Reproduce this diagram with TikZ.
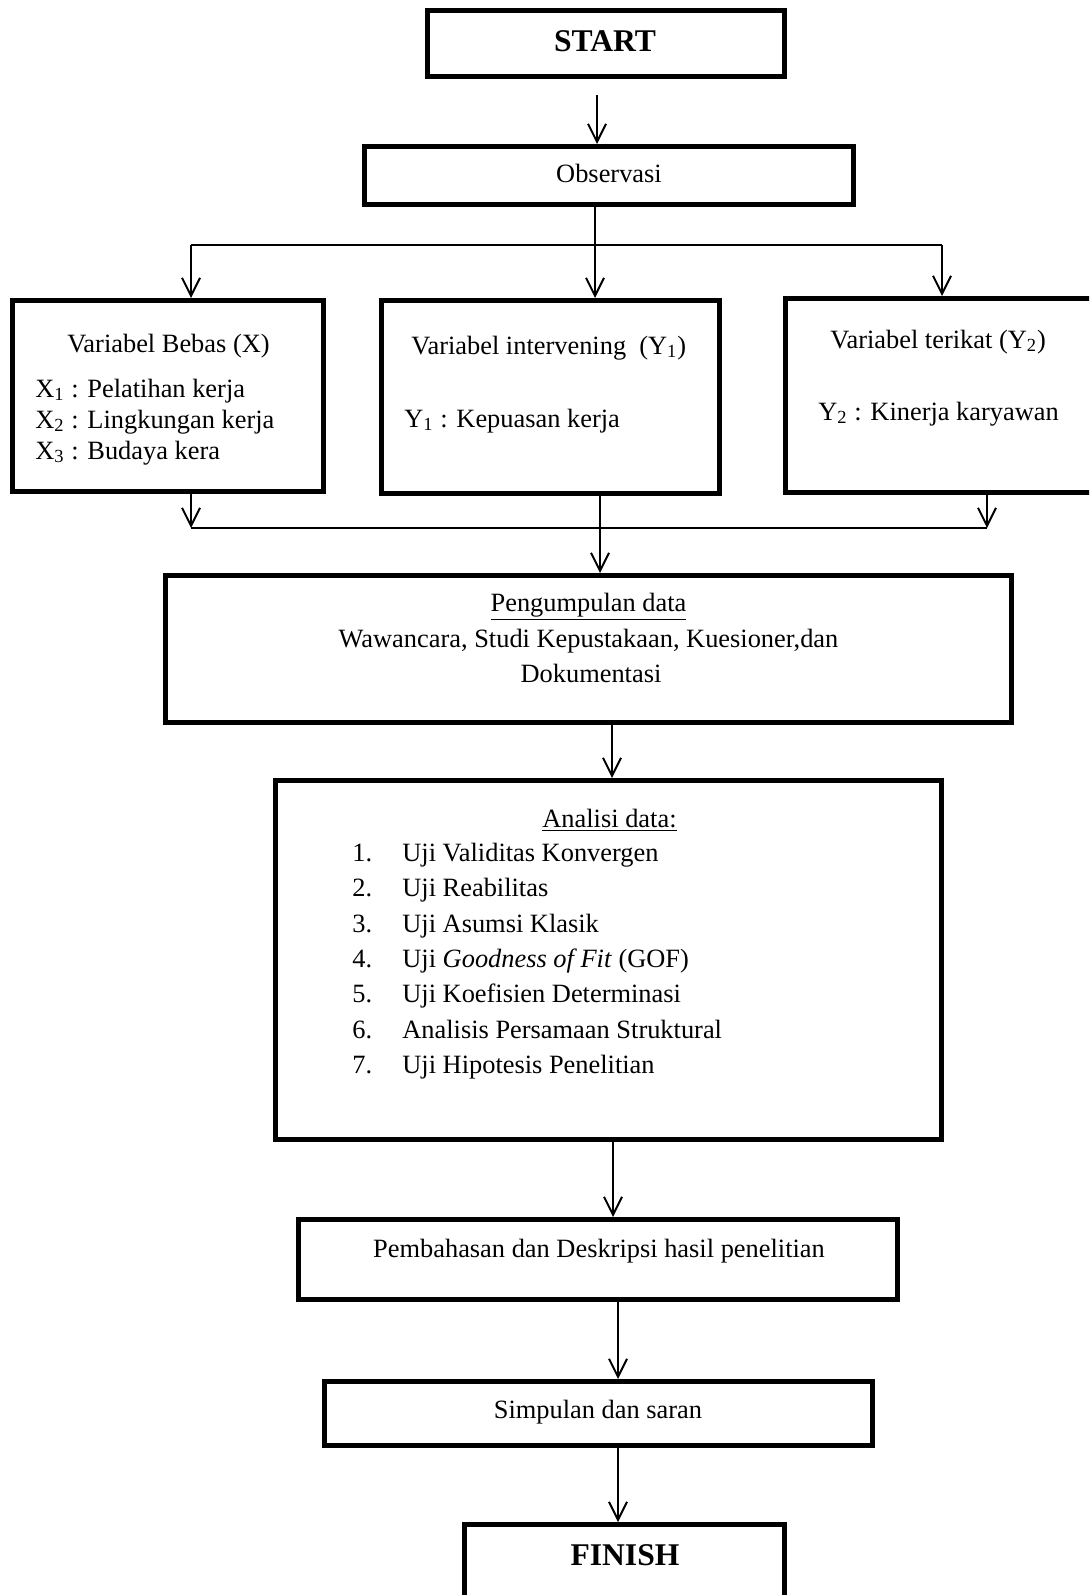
\documentclass[tikz,border=0pt]{standalone}
\usepackage{fontspec}
\setmainfont{Liberation Serif}
\usetikzlibrary{arrows.meta,calc}
\begin{document}
\begin{tikzpicture}[x=0.5pt,y=-0.5pt,
  box/.style={draw,line width=2.5pt,inner sep=0pt},
  txt/.style={inner sep=0pt,font=\fontsize{13.2}{15.5}\selectfont},
  bold/.style={inner sep=0pt,font=\fontsize{15.8}{18}\selectfont\bfseries},
  conn/.style={line width=1pt},
  arr/.style={line width=1pt,-{Straight Barb[length=9pt,width=9pt]}}]
\clip (0,0) rectangle (1089,1595);
\fill[white] (0,0) rectangle (1089,1595);
% boxes
\node[box,minimum width=178.5pt,minimum height=33pt] (start) at (606,43.5) {};
\node[box,minimum width=244.5pt,minimum height=29pt] (obs) at (609,175.5) {};
\node[box,minimum width=155.5pt,minimum height=95.5pt] (bebas) at (168,396) {};
\node[box,minimum width=169pt,minimum height=96.5pt] (interv) at (550.5,397) {};
\node[box,minimum width=157.25pt,minimum height=97pt] (terikat) at (942.75,395.5) {};
\node[box,minimum width=423pt,minimum height=73.5pt] (kumpul) at (588.5,649) {};
\node[box,minimum width=333pt,minimum height=179.5pt] (analisi) at (608.5,960) {};
\node[box,minimum width=299.5pt,minimum height=40pt] (bahas) at (598,1259.5) {};
\node[box,minimum width=274pt,minimum height=32pt] (simpul) at (598.5,1413.5) {};
\node[box,minimum width=160pt,minimum height=57.75pt] (finish) at (624.5,1582.25) {};
% texts
\node[bold,anchor=base] (tstart) at (605,52) {START};
\node[txt,anchor=base] (tobs) at (609,183) {Observasi};
\node[txt,anchor=base] (tbebas) at (168.5,352) {Variabel Bebas (X)};
\node[txt,anchor=base west] (tx1) at (35,397) {X\textsubscript{1} : Pelatihan kerja};
\node[txt,anchor=base west] (tx2) at (35,428) {X\textsubscript{2} : Lingkungan kerja};
\node[txt,anchor=base west] (tx3) at (35,459) {X\textsubscript{3} : Budaya kera};
\node[txt,anchor=base west] (tinterv) at (411,354) {Variabel intervening\ \ (Y\textsubscript{1})};
\node[txt,anchor=base west] (ty1) at (404,427) {Y\textsubscript{1} : Kepuasan kerja};
\node[txt,anchor=base west] (tterikat) at (830,348) {Variabel terikat (Y\textsubscript{2})};
\node[txt,anchor=base west] (ty2) at (818,420) {Y\textsubscript{2} : Kinerja karyawan};
\node[txt,anchor=base] (tkumpul) at (588.5,611) {\underline{Pengumpulan data}};
\node[txt,anchor=base] (tkumpul2) at (588.5,647) {Wawancara, Studi Kepustakaan, Kuesioner,dan};
\node[txt,anchor=base] (tkumpul3) at (591,682) {Dokumentasi};
\node[txt,anchor=base] (tanalisi) at (609.5,827) {\underline{Analisi data:}};
\foreach \i/\t in {1/{Uji Validitas Konvergen},2/{Uji Reabilitas},3/{Uji Asumsi Klasik},4/{Uji \textit{Goodness of Fit} (GOF)},5/{Uji Koefisien Determinasi},6/{Analisis Persamaan Struktural},7/{Uji Hipotesis Penelitian}}
  \node[txt,anchor=base west] (item\i) at (352,{861.5+35.3*(\i-1)}) {\makebox[25pt][l]{\i.}\t};
\node[txt,anchor=base] (tbahas) at (599,1257) {Pembahasan dan Deskripsi hasil penelitian};
\node[txt,anchor=base] (tsimpul) at (598,1418) {Simpulan dan saran};
\node[bold,anchor=base] (tfinish) at (625,1565) {FINISH};
% helper coordinates
\coordinate (c1) at (597,95);
\coordinate (hL) at (191,245);
\coordinate (hM) at (595,245);
\coordinate (hR) at (942,245);
\coordinate (bL) at (191,528);
\coordinate (bM) at (600,528);
\coordinate (bR) at (987,528);
\coordinate (k1) at (612,0);
\coordinate (k2) at (613,0);
\coordinate (k3) at (618,0);
\coordinate (k4) at (618,1522);
% connectors
\draw[arr] (c1) -- (c1 |- obs.north);
\draw[conn] (hM |- obs.south) -- (hM);
\draw[conn] (hL) -- (hR);
\draw[arr] (hL) -- (hL |- bebas.north);
\draw[arr] (hM) -- (hM |- interv.north);
\draw[arr] (hR) -- (hR |- terikat.north);
\draw[arr] (bL |- bebas.south) -- (bL);
\draw[arr] (bR |- terikat.south) -- (bR);
\draw[conn] (bL) -- (bR);
\draw[arr] (bM |- interv.south) -- (bM |- kumpul.north);
\draw[arr] (k1 |- kumpul.south) -- (k1 |- analisi.north);
\draw[arr] (k2 |- analisi.south) -- (k2 |- bahas.north);
\draw[arr] (k3 |- bahas.south) -- (k3 |- simpul.north);
\draw[arr] (k4 |- simpul.south) -- (k4 |- finish.north);
\end{tikzpicture}
\end{document}
